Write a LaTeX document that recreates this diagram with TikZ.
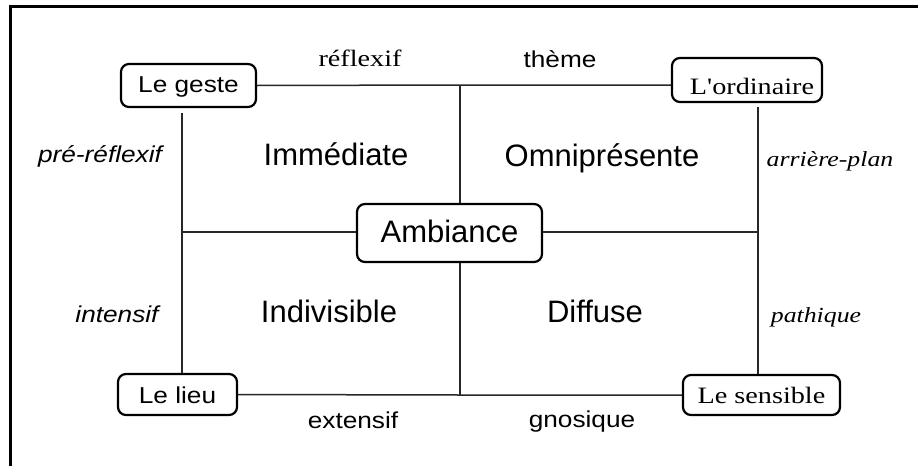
\documentclass[tikz,border=0pt]{standalone}
\usepackage{fontspec}
\setmainfont{Liberation Serif}
\newfontfamily\sansbig{Liberation Sans}
\newfontfamily\sanssm{Liberation Sans}[FakeStretch=1.14]
\newfontfamily\serifsm{Liberation Serif}[FakeStretch=1.2]
\begin{document}
\begin{tikzpicture}[x=1pt,y=-1pt,
  box/.style={draw=black, line width=2.2pt, rounded corners=8pt, inner sep=0pt},
  conn/.style={draw=black!85, line width=1.5pt},
  lab/.style={anchor=base, inner sep=0pt},
  ssm/.style={font=\sanssm\fontsize{23}{27}\selectfont},
  ssi/.style={font=\sanssm\itshape\fontsize{23}{27}\selectfont},
  big/.style={font=\sansbig\fontsize{31}{36}\selectfont},
  ser/.style={font=\serifsm\fontsize{23.5}{28}\selectfont},
  seri/.style={font=\serifsm\itshape\fontsize{21.5}{26}\selectfont}]
\useasboundingbox (0,0) rectangle (918,466);
\draw[line width=3pt] (10.5,466) -- (10.5,6.5) -- (918,6.5);

\node[box, minimum width=135pt, minimum height=43pt, text height=17pt, text depth=4pt, ssm] (g) at (188.5,85.5) {Le geste};
\node[box, minimum width=150pt, minimum height=44pt, text height=30pt, text depth=2pt, ser] (o) at (747,80) {\hspace{10pt}L'ordinaire};
\node[box, minimum width=185pt, minimum height=58pt, text height=22pt, text depth=4pt, big] (a) at (449.5,233) {Ambiance};
\node[box, minimum width=119pt, minimum height=41pt, text height=21pt, text depth=4pt, ssm] (l) at (177.5,394.5) {Le lieu\hspace{12pt}};
\node[box, minimum width=157pt, minimum height=40pt, text height=20pt, text depth=4pt, ser] (s) at (761.5,395) {Le sensible\hspace{7pt}};

\coordinate (t) at (460,85);
\coordinate (b) at (460,395);
\coordinate (ml) at (182,232);
\coordinate (mr) at (758,232);

\draw[conn] (g.east) -- (t) -- (o.west |- t);
\draw[conn] (t) -- (t |- a.north);
\draw[conn] (t |- a.south) -- (b);
\draw[conn] (l.east) -- (b) -- (s.west |- b);
\draw[conn, shorten <=5pt] (ml |- g.south) -- (ml |- l.north);
\draw[conn] (ml) -- (a.west |- ml);
\draw[conn] (a.east |- mr) -- (mr);
\draw[conn, shorten <=4pt] (mr |- o.south) -- (mr |- s.north);

\node[lab, ser] (r1) at (360,66) {réflexif};
\node[lab, ssm] (r2) at (560,67) {thème};
\node[lab, ssi] (r3) at (100,162) {pré-réflexif};
\node[lab, big] (q1) at (336,165) {Immédiate};
\node[lab, big] (q2) at (602,166) {Omniprésente};
\node[lab, seri] (r4) at (830,166) {arrière-plan};
\node[lab, ssi] (r5) at (117,322) {intensif};
\node[lab, big] (q3) at (329,322) {Indivisible};
\node[lab, big] (q4) at (595,322) {Diffuse};
\node[lab, seri] (r6) at (816,322) {pathique};
\node[lab, ssm] (r7) at (353,428) {extensif};
\node[lab, ssm] (r8) at (582,427) {gnosique};
\end{tikzpicture}
\end{document}
